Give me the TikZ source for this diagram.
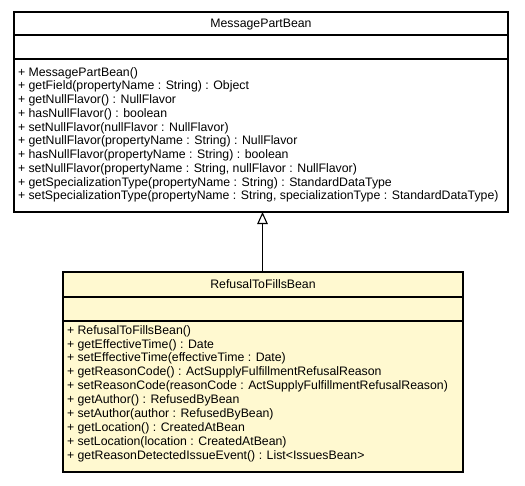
\documentclass[tikz,border=0pt]{standalone}
\usepackage{fontspec}
\setmainfont{Liberation Sans}
\usetikzlibrary{arrows.meta}
\definecolor{beanyellow}{RGB}{255,249,208}
\tikzset{
  classbox/.style={draw=black, line width=1.1pt, rectangle, inner sep=0pt, outer sep=0pt, anchor=north west},
  sepline/.style={draw=black, line width=1.1pt},
  umltext/.style={inner sep=0pt, outer sep=0pt, font=\fontsize{12.3}{13.8}\selectfont},
  member/.style={umltext, anchor=base west},
  title/.style={umltext, anchor=base},
  inherit/.style={line width=1.1pt, -{Triangle[open, length=12pt, width=10.5pt, line width=1.1pt]}}
}
\begin{document}
\begin{tikzpicture}[x=1pt, y=-1pt]
\useasboundingbox[fill=white] (0,0) rectangle (525,485);

% ---------- parent class ----------
\node[classbox, fill=white, minimum width=494pt, minimum height=200pt] (parent) at (14,12) {};
\draw[sepline] ([yshift=-23pt]parent.north west) -- ([yshift=-23pt]parent.north east);
\draw[sepline] ([yshift=-47pt]parent.north west) -- ([yshift=-47pt]parent.north east);
\node[title] (parentname) at (261,27.9) {MessagePartBean};
\foreach \i/\t in {
  0/{+ MessagePartBean()},
  1/{+ getField(propertyName : String) : Object},
  2/{+ getNullFlavor() : NullFlavor},
  3/{+ hasNullFlavor() : boolean},
  4/{+ setNullFlavor(nullFlavor : NullFlavor)},
  5/{+ getNullFlavor(propertyName : String) : NullFlavor},
  6/{+ hasNullFlavor(propertyName : String) : boolean},
  7/{+ setNullFlavor(propertyName : String, nullFlavor : NullFlavor)},
  8/{+ getSpecializationType(propertyName : String) : StandardDataType},
  9/{+ setSpecializationType(propertyName : String, specializationType : StandardDataType)}}
  \node[member] (pm\i) at (18, 76.1+13.75*\i) {\t};

% ---------- child class ----------
\node[classbox, fill=beanyellow, minimum width=400pt, minimum height=200pt] (child) at (63,272) {};
\draw[sepline] ([yshift=-25pt]child.north west) -- ([yshift=-25pt]child.north east);
\draw[sepline] ([yshift=-49pt]child.north west) -- ([yshift=-49pt]child.north east);
\node[title] (childname) at (263,288.9) {RefusalToFillsBean};
\foreach \i/\t in {
  0/{+ RefusalToFillsBean()},
  1/{+ getEffectiveTime() : Date},
  2/{+ setEffectiveTime(effectiveTime : Date)},
  3/{+ getReasonCode() : ActSupplyFulfillmentRefusalReason},
  4/{+ setReasonCode(reasonCode : ActSupplyFulfillmentRefusalReason)},
  5/{+ getAuthor() : RefusedByBean},
  6/{+ setAuthor(author : RefusedByBean)},
  7/{+ getLocation() : CreatedAtBean},
  8/{+ setLocation(location : CreatedAtBean)},
  9/{+ getReasonDetectedIssueEvent() : List<IssuesBean>}}
  \node[member] (cm\i) at (67, 334.1+13.9*\i) {\t};

% ---------- generalization ----------
\draw[inherit] ([xshift=-0.5pt]child.north) -- ([xshift=-0.5pt]child.north |- parent.south);
\end{tikzpicture}
\end{document}
